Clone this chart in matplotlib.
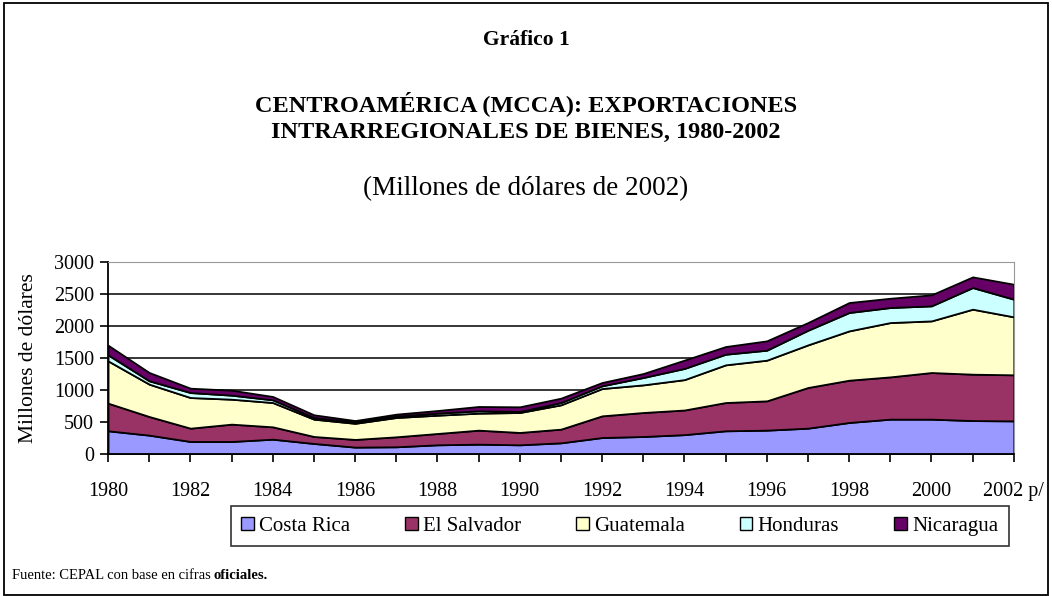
import numpy as np
import matplotlib
matplotlib.use('Agg')
import matplotlib.pyplot as plt
from matplotlib.patches import Rectangle, Patch

years = list(range(1980, 2003))
countries = ['Costa Rica', 'El Salvador', 'Guatemala', 'Honduras', 'Nicaragua']

# millones de dólares de 2002, por país (se apilan)
costa_rica = [365, 297, 198, 198, 234, 167, 110, 115, 146, 156, 146, 177, 260, 276, 305, 365, 375, 406, 495, 547, 547, 525, 520]
el_salvador = [432, 291, 208, 271, 193, 109, 120, 156, 177, 219, 193, 214, 339, 375, 385, 442, 458, 636, 661, 661, 729, 725, 720]
guatemala = [661, 506, 479, 390, 380, 271, 252, 302, 286, 266, 312, 380, 427, 432, 475, 589, 636, 666, 771, 849, 807, 1016, 906]
honduras = [94, 52, 78, 63, 42, 26, 18, 21, 32, 36, 16, 36, 42, 115, 175, 166, 156, 229, 287, 235, 235, 338, 276]
nicaragua = [151, 130, 68, 78, 52, 42, 25, 31, 41, 68, 73, 68, 52, 62, 130, 120, 146, 120, 156, 145, 172, 167, 234]

colors = ['#9999FF', '#993366', '#FFFFCC', '#CCFFFF', '#660066']
xlabels = [str(y) if y % 2 == 0 else '' for y in years]
xlabels[-1] = '2002 p/'

plt.rcParams['font.family'] = ['Liberation Serif', 'DejaVu Serif']

fig = plt.figure(figsize=(10.52, 5.96), dpi=100)
ax = fig.add_axes([0.1027, 0.238, 0.861, 0.322])

ax.stackplot(years, costa_rica, el_salvador, guatemala, honduras, nicaragua,
             colors=colors, edgecolor='black', linewidth=1.3)

ax.set_xlim(1980, 2002)
ax.set_ylim(0, 3000)
ax.set_yticks(range(0, 3001, 500))
ax.set_xticks(years)
ax.set_xticklabels(xlabels, fontsize=14.5)
ax.tick_params(axis='y', labelsize=14.5, length=6, width=1.2, direction='out', pad=4)
ax.tick_params(axis='x', length=6, width=1.2, direction='out', pad=14)

for v in range(500, 3000, 500):
    ax.axhline(v, color='black', linewidth=1.1, zorder=0)
ax.set_axisbelow(True)

ax.spines['top'].set_color('#999999')
ax.spines['right'].set_color('#999999')
ax.spines['left'].set_linewidth(1.3)
ax.spines['bottom'].set_linewidth(1.3)

fig.text(0.027, 0.40, 'Millones de dólares', rotation=90, ha='center', va='center', fontsize=15.5)

fig.text(0.5, 0.933, 'Gráfico 1', ha='center', va='center', fontsize=15.5, fontweight='bold')
fig.text(0.5, 0.827, 'CENTROAMÉRICA (MCCA): EXPORTACIONES', ha='center', va='center',
         fontsize=17.5, fontweight='bold')
fig.text(0.5, 0.777, 'INTRARREGIONALES DE BIENES, 1980-2002', ha='center', va='center',
         fontsize=17.5, fontweight='bold')
fig.text(0.5, 0.683, '(Millones de dólares de 2002)', ha='center', va='center', fontsize=19.5)

handles = [Patch(facecolor=c, edgecolor='black', linewidth=1) for c in colors]
leg = fig.legend(handles, countries, loc='center', bbox_to_anchor=(0.589, 0.117), ncol=5,
                 fontsize=15, frameon=True, fancybox=False, edgecolor='black',
                 handlelength=0.6, handleheight=0.6, handletextpad=0.25, columnspacing=2.65,
                 borderpad=0.5)
leg.get_frame().set_linewidth(1.2)

t1 = fig.text(0.011, 0.035, 'Fuente: CEPAL con base en cifras ', ha='left', va='center', fontsize=10.5)
fig.canvas.draw()
bb = t1.get_window_extent(fig.canvas.get_renderer()).transformed(fig.transFigure.inverted())
fig.text(bb.x1, 0.035, 'oficiales.', ha='left', va='center', fontsize=10.5, fontweight='bold')

fig.patches.append(Rectangle((0.004, 0.002), 0.992, 0.993, transform=fig.transFigure,
                             fill=False, edgecolor='black', linewidth=1.3))

fig.savefig('out.png', dpi=100)
